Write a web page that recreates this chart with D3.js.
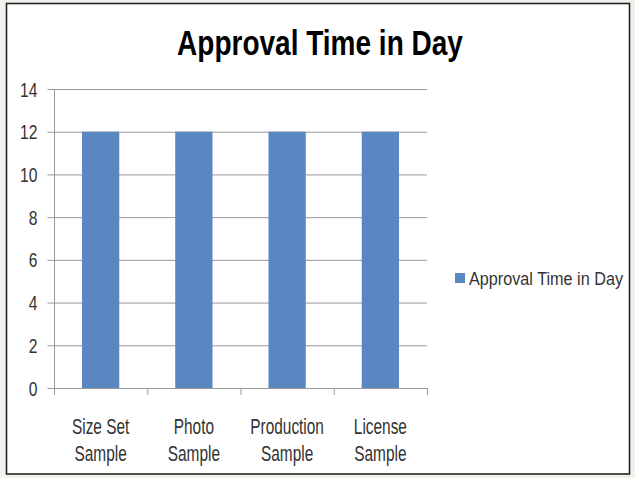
<!DOCTYPE html>
<html><head><meta charset="utf-8">
<script src="https://cdn.jsdelivr.net/npm/d3@7"></script>
<style>
html,body{margin:0;padding:0;background:#f2f2ec;}
svg{display:block;}
</style></head>
<body>
<svg id="c" width="635" height="478"></svg>
<script>
const categories = [["Size Set","Sample"],["Photo","Sample"],["Production","Sample"],["License","Sample"]];
const values = [12, 12, 12, 12];
const yTicks = [0, 2, 4, 6, 8, 10, 12, 14];
const seriesName = "Approval Time in Day";
const title = "Approval Time in Day";

(function(){
const font = "'Liberation Sans',Arial,sans-serif";
const svg = d3.select("#c");
function condense(sel, f){
  sel.each(function(){
    const len = this.getComputedTextLength();
    this.setAttribute("textLength", (len*f).toFixed(1));
    this.setAttribute("lengthAdjust","spacingAndGlyphs");
  });
}
svg.append("rect").attr("x",6.5).attr("y",3.5).attr("width",623).attr("height",470.5)
  .attr("fill","#fff").attr("stroke","#222").attr("stroke-width",1.6);

const pL = 54, pR = 427, pT = 89, pB = 388;
const x = d3.scaleBand().domain(categories.map((d,i)=>i)).range([pL,pR]).paddingInner(0.6).paddingOuter(0.3);
const xb = d3.scaleBand().domain(categories.map((d,i)=>i)).range([pL,pR]);
const y = d3.scaleLinear().domain([0,14]).range([pB,pT]);

svg.append("g").selectAll("line").data(yTicks.filter(t=>t>0)).join("line")
  .attr("x1",pL).attr("x2",pR).attr("y1",d=>y(d)+0.5).attr("y2",d=>y(d)+0.5)
  .attr("stroke","#999").attr("stroke-width",1);

svg.append("g").selectAll("rect").data(values).join("rect")
  .attr("x",(d,i)=>x(i)).attr("width",x.bandwidth())
  .attr("y",d=>y(d)).attr("height",d=>y(0)-y(d))
  .attr("fill","#5a87c1");

const ya = svg.append("g").attr("transform",`translate(${pL+0.5},0)`)
  .call(d3.axisLeft(y).tickValues(yTicks).tickSize(7).tickPadding(10));
ya.select(".domain").attr("stroke","#999").attr("d",`M0,${pT}V${pB+7}`);
ya.selectAll(".tick line").attr("stroke","#999");
const yt = ya.selectAll(".tick text").attr("font-family",font).attr("font-size",19.5).attr("fill","#333").attr("dy","0.36em");
condense(yt, 0.8);

const xg = svg.append("g");
xg.append("line").attr("x1",pL).attr("x2",pR+1).attr("y1",pB+0.5).attr("y2",pB+0.5).attr("stroke","#999");
const bounds = categories.map((d,i)=>xb(i)).concat([pR]);
xg.selectAll("line.t").data(bounds).join("line").attr("class","t")
  .attr("x1",d=>d+0.5).attr("x2",d=>d+0.5).attr("y1",pB).attr("y2",pB+7).attr("stroke","#999");
categories.forEach((d,i)=>{
  const cx = xb(i)+xb.bandwidth()/2;
  d.forEach((line,j)=>{
    const e = xg.append("text").attr("x",cx).attr("y",434+j*27).attr("text-anchor","middle")
      .attr("font-family",font).attr("font-size",22).attr("fill","#333").text(line);
    condense(e, 0.7);
  });
});

const tt = svg.append("text").attr("x",320).attr("y",55).attr("text-anchor","middle")
  .attr("font-family",font).attr("font-weight","bold").attr("font-size",35).attr("fill","#000").text(title);
condense(tt, 0.8);

svg.append("rect").attr("x",455).attr("y",273).attr("width",10).attr("height",10).attr("fill","#5a87c1");
svg.append("text").attr("x",469).attr("y",285).attr("font-family",font).attr("font-size",17.5).attr("fill","#333")
  .attr("textLength",154).attr("lengthAdjust","spacingAndGlyphs").text(seriesName);
})();
</script>
</body></html>
